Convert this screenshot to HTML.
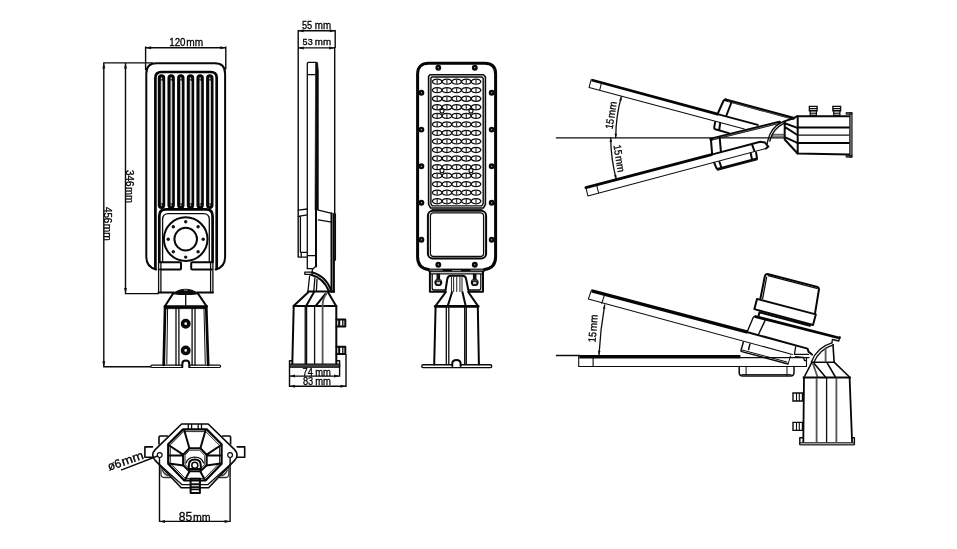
<!DOCTYPE html>
<html lang="en">
<head>
<meta charset="utf-8">
<title>Street light dimensions</title>
<style>
html,body{margin:0;padding:0;background:#fff;}
body{width:957px;height:549px;overflow:hidden;position:relative;}
svg{position:absolute;left:0;top:0;display:block;filter:grayscale(1);}
svg text{font-family:"Liberation Sans","DejaVu Sans",sans-serif;font-size:10px;fill:#000;stroke:#000;stroke-width:0.3;}
.t{fill:none;stroke:#0c0c0c;stroke-width:1.3;stroke-linecap:round;stroke-linejoin:round;}
.m{fill:none;stroke:#080808;stroke-width:2;stroke-linecap:round;stroke-linejoin:round;}
.k{fill:none;stroke:#050505;stroke-width:2.7;stroke-linecap:round;stroke-linejoin:round;}
.d{fill:none;stroke:#0a0a0a;stroke-width:1.4;stroke-linecap:butt;stroke-linejoin:miter;}
.h{fill:none;stroke:#333;stroke-width:0.6;stroke-linecap:round;stroke-linejoin:round;}
.f{fill:#111;stroke:none;}
.w{fill:#fff;}
</style>
</head>
<body>
<svg width="957" height="549" viewBox="0 0 957 549">
<rect width="957" height="549" fill="#fff"/>

<!-- VIEW 1 : back view -->
<g id="v1">
  <!-- dimension lines -->
  <path class="d" d="M145.6 46.6V70 M225.8 46.6V69.5 M145.6 47.8H225.8"/>
  <path class="f" d="M145.6 47.8l5.5-1.5v3z M225.8 47.8l-5.5-1.5v3z"/>
  <g transform="translate(169.2 46.2)"><text x="0" y="0" textLength="16.3" lengthAdjust="spacingAndGlyphs" style="font-size:10.4px">120</text><text x="17.1" y="0" textLength="16.9" lengthAdjust="spacingAndGlyphs" style="font-size:11.2px">mm</text></g>
  <path class="d" d="M103.1 62.9H153 M103.8 62.9V366.8 M103.1 366.8H151 M125.5 62.9V293.6 M124.8 293.6H159"/>
  <path class="f" d="M103.8 62.9l-1.5 5.5h3z M125.5 62.9l-1.5 5.5h3z M103.8 366.8l-1.5-5.5h3z M125.5 293.6l-1.5-5.5h3z"/>
  <g transform="translate(126 170.1) rotate(90)"><text x="0" y="0" textLength="16.3" lengthAdjust="spacingAndGlyphs" style="font-size:10.6px">346</text><text x="16.8" y="0" textLength="16.0" lengthAdjust="spacingAndGlyphs" style="font-size:10.8px">mm</text></g>
  <g transform="translate(104.3 207) rotate(90)"><text x="0" y="0" textLength="16.3" lengthAdjust="spacingAndGlyphs" style="font-size:10.6px">456</text><text x="16.7" y="0" textLength="17.1" lengthAdjust="spacingAndGlyphs" style="font-size:10.8px">mm</text></g>

  <!-- outer body -->
  <path class="m" d="M156.2 269.5Q146.3 267 146.3 257V73.5Q146.3 63.2 156.6 63.2H214.8Q225.1 63.2 225.1 73.5V257Q225.1 267 215.6 269.5"/>
  <!-- inner frame -->
  <path class="k" d="M155.4 269V78Q155.4 72 161.4 72H210.7Q216.7 72 216.7 78V269"/>
  <!-- fins -->
  <g id="fins">
    <g id="fin">
      <rect x="159.3" y="75.8" width="4.4" height="131.6" rx="2.2" fill="#c4c4c4" stroke="#060606" stroke-width="3"/>
      <path d="M162.1 203V81" fill="none" stroke="#eee" stroke-width="0.8"/>
      <path d="M160 79.8H163.4 M160 204H163.4" fill="none" stroke="#111" stroke-width="0.9"/>
    </g>
    <use href="#fin" x="9.66"/>
    <use href="#fin" x="19.32"/>
    <use href="#fin" x="28.98"/>
    <use href="#fin" x="38.64"/>
    <use href="#fin" x="48.3"/>
  </g>
  <!-- lower module -->
  <path class="k" d="M159.3 262V216Q159.3 209.4 165.9 209.4H206.1Q212.6 209.4 212.6 216V262" fill="#fff"/>
  <path class="t" d="M158.6 262V292.5 M160.9 262V292.5 M210.6 262V292.5 M212.9 262V292.5"/>
  <path class="t" d="M162.6 262V219.5Q162.6 213.6 168.5 213.6H203.4Q209.3 213.6 209.3 219.5V262"/>
  <path class="m" d="M158.5 292.6H174 M197 292.6H213"/>
  <circle class="m" cx="185.7" cy="239.1" r="21.8"/>
  <circle class="m" cx="185.7" cy="239.1" r="11.3"/>
  <g class="f">
    <circle cx="185.7" cy="221.7" r="1.7"/><circle cx="185.7" cy="257.1" r="1.7"/>
    <circle cx="168.2" cy="239.2" r="1.7"/><circle cx="203.2" cy="239.2" r="1.7"/>
    <circle cx="173.3" cy="226.8" r="1.7"/><circle cx="198.1" cy="226.8" r="1.7"/>
    <circle cx="173.3" cy="251.8" r="1.7"/><circle cx="198.1" cy="251.8" r="1.7"/>
  </g>
  <path class="m" d="M160 262.2H180Q181 262.2 181 263.2V268.5Q181 269.5 180 269.5H160 M212 262.2H192.2Q191.2 262.2 191.2 263.2V268.5Q191.2 269.5 192.2 269.5H212" fill="#fff"/>
  <!-- dome + pole -->
  <path d="M173 293.6Q185.7 285.2 198 293.6Q185.7 295.4 173 293.6Z" fill="#0a0a0a" stroke="#0a0a0a" stroke-width="1.2" stroke-linejoin="round"/>
  <path d="M183.8 290.1H187.6" stroke="#ccc" stroke-width="0.8" fill="none"/>
  <path class="m" d="M173 293.6L164.9 306.3 M198 293.6L206.6 306.3"/>
  <path class="k" d="M165 306.6H206.5"/>
  <path class="k" d="M165.1 306.3L163.7 365 M206.2 306.3L208.2 365"/>
    <path class="t" d="M185.7 294V306 M176 307V365 M178.9 307V365 M192.1 307V365 M195 307V365"/>
  <path class="t" d="M167.6 308.5L166.8 364 M204 308.5L205.3 364 M166 308.6H205.5" style="stroke-width:1"/>
  <circle cx="185.7" cy="323.7" r="3.15" fill="#fff" stroke="#0a0a0a" stroke-width="3.6"/>
  <circle cx="185.7" cy="350.4" r="3.15" fill="#fff" stroke="#0a0a0a" stroke-width="3.6"/>
  <path class="t" d="M182.6 365.1H152Q150.8 365.1 150.8 366.3Q150.8 367.5 152 367.5H182.6 M189 365.1H219.4Q220.6 365.1 220.6 366.3Q220.6 367.5 219.4 367.5H189" style="stroke-width:1.2" fill="#bbb"/>
  <path class="m" d="M182.3 367V364Q182.3 360.6 185.8 360.6Q189.3 360.6 189.3 364V367"/>
</g>

<!-- VIEW 2 : side view -->
<g id="v2">
  <path class="d" d="M298.2 30V257 M335.2 30V48 M334.7 47V214 M297.5 30.7H335.9 M298.2 47.9H334.7"/>
  <path class="f" d="M298.2 30.7l5.5-1.5v3z M335.2 30.7l-5.5-1.5v3z M298.2 47.9l5.5-1.5v3z M334.7 47.9l-5.5-1.5v3z"/>
  <g transform="translate(301.9 28.8)"><text x="0" y="0" textLength="10.3" lengthAdjust="spacingAndGlyphs" style="font-size:10.8px">55</text><text x="12.9" y="0" textLength="16.3" lengthAdjust="spacingAndGlyphs" style="font-size:10.6px">mm</text></g>
  <g transform="translate(302.6 45.2)"><text x="0" y="0" textLength="10.1" lengthAdjust="spacingAndGlyphs" style="font-size:9.8px">53</text><text x="12.2" y="0" textLength="16.3" lengthAdjust="spacingAndGlyphs" style="font-size:9.9px">mm</text></g>
  <!-- head -->
  <path class="t" d="M307.3 268.5V63.5Q307.3 62.4 308.4 62.4H316 M307.3 74.6H315"/>
  <path d="M315.6 62.4H317.6L318.4 71V210H315Z" fill="#0a0a0a" stroke="#0a0a0a" stroke-width="0.6"/>
  <path class="m" d="M316 210V266.5"/>
  <!-- left driver box -->
  <path class="t" d="M298.3 210.1L307.3 209 M298.3 216.3L307.3 214.8 M298.3 257.2H301.2 M301.2 252.4V257.2H307.3 M301.2 252.4H307.3 M300.4 216.5V252"/>
  <!-- right box -->
  <path class="t" d="M318.4 210.1L331.8 213.3 M318.4 219.9L331.8 222.2 M307.5 255.6H315"/>
  <path class="m" d="M331.5 213.3V292 M333.9 214V292"/>
  <path class="t" d="M335.4 214V260H334"/>
  <!-- neck + bracket -->
  <path class="t" d="M307.3 268.6H312.3 M312.3 268.6V272 M315 267L312.3 269.5"/>
  <path class="t" d="M304.8 272.2H312.2V274.3H304.8Z"/>
  <path class="m" d="M312.2 272.4Q325.5 275.5 331.2 290.5 M311 274.8Q323.5 278 328.8 291"/>
  <path class="t" d="M309.6 276L308 291 M314.9 278L313.8 291 M317 279.5L316.4 291"/>
  <!-- cone -->
  <path class="m" d="M308 291.5H333.9 M308.5 291.9L293.5 306.1 M327.9 291.9L336 305.8 M293.5 306.1H336.4"/>
  <path class="m" d="M313.8 292.4L306.4 305.6 M325.4 294L315.9 305.6"/>
  <path d="M327 293Q322.6 298 322.6 306V364" fill="none" stroke="#555" stroke-width="1.8"/>
  <!-- pole -->
  <path class="m" d="M293.7 306.3L292.3 364 M336.3 306V364"/>
  <path class="t" d="M305.2 306V364 M306.6 306V364 M314.6 306V364"/>
  <!-- bolts -->
  <path class="m" d="M336.5 319.4H345.3V326.6H336.5 M339.2 319.4V326.6 M336.5 346.7H345.3V353.9H336.5 M339.2 346.7V353.9"/>
  <path class="t" d="M342.8 319.4V326.6 M342.8 346.7V353.9"/>
  <!-- base -->
  <path d="M289.5 364H339.7V367.3H289.5Z" fill="#444" stroke="#0a0a0a" stroke-width="1"/>
  <path class="d" d="M289.5 360.3V386.9 M292 360.8H289.5 M339.6 360.3V376.8 M337 360.8H339.6 M346 354V386.9 M289.5 376.1H339.6 M289.5 386.2H346"/>
  <path class="f" d="M289.5 376.1l5.5-1.5v3z M339.6 376.1l-5.5-1.5v3z M289.5 386.2l5.5-1.5v3z M346 386.2l-5.5-1.5v3z"/>
  <g transform="translate(302.5 375.5)"><text x="0" y="0" textLength="10.3" lengthAdjust="spacingAndGlyphs" style="font-size:11.3px">74</text><text x="12.7" y="0" textLength="15.7" lengthAdjust="spacingAndGlyphs" style="font-size:10.7px">mm</text></g>
  <g transform="translate(302.9 385.3)"><text x="0" y="0" textLength="10.3" lengthAdjust="spacingAndGlyphs" style="font-size:10.6px">83</text><text x="12.3" y="0" textLength="15.7" lengthAdjust="spacingAndGlyphs" style="font-size:10.4px">mm</text></g>
</g>

<!-- VIEW 3 : front view -->
<g id="v3">
  <path class="k" d="M428.5 269.6Q417.6 268 417.6 257V74C417.6 67 421.5 63.3 428.6 63.3H484.6C491.7 63.3 495.6 67 495.6 74V257Q495.6 268 484.5 269.6" style="stroke-width:3"/>
  <circle cx="421.4" cy="92.7" r="1.75" fill="#fff" stroke="#0a0a0a" stroke-width="2.4"/>
  <circle cx="491.7" cy="92.7" r="1.75" fill="#fff" stroke="#0a0a0a" stroke-width="2.4"/>
  <circle cx="421.4" cy="129.6" r="1.75" fill="#fff" stroke="#0a0a0a" stroke-width="2.4"/>
  <circle cx="491.7" cy="129.6" r="1.75" fill="#fff" stroke="#0a0a0a" stroke-width="2.4"/>
  <circle cx="421.4" cy="166.2" r="1.75" fill="#fff" stroke="#0a0a0a" stroke-width="2.4"/>
  <circle cx="491.7" cy="166.2" r="1.75" fill="#fff" stroke="#0a0a0a" stroke-width="2.4"/>
  <circle cx="421.4" cy="202.7" r="1.75" fill="#fff" stroke="#0a0a0a" stroke-width="2.4"/>
  <circle cx="491.7" cy="202.7" r="1.75" fill="#fff" stroke="#0a0a0a" stroke-width="2.4"/>
  <circle cx="421.4" cy="239.7" r="1.75" fill="#fff" stroke="#0a0a0a" stroke-width="2.4"/>
  <circle cx="491.7" cy="239.7" r="1.75" fill="#fff" stroke="#0a0a0a" stroke-width="2.4"/>
  <circle cx="438.3" cy="67.7" r="1.75" fill="#fff" stroke="#0a0a0a" stroke-width="2.4"/>
  <circle cx="438.3" cy="264.8" r="1.75" fill="#fff" stroke="#0a0a0a" stroke-width="2.4"/>
  <circle cx="474.8" cy="67.7" r="1.75" fill="#fff" stroke="#0a0a0a" stroke-width="2.4"/>
  <circle cx="474.8" cy="264.8" r="1.75" fill="#fff" stroke="#0a0a0a" stroke-width="2.4"/>
  <!-- led panel -->
  <path class="t" d="M430 74.8H483.4L485.4 76.8V204.4L483.4 208H430.6L428.6 204.4V76.2Z" style="stroke-width:1.6"/>
  <path class="t" d="M431.8 77H482L483.2 78.2V203.7L481.7 205.9H432.2L430.9 203.7V77.9Z" style="stroke-width:1.4"/>
  <defs><g id="led"><path d="M-4.85 0C-4 -3.4 4 -3.4 4.85 0C4 3.4 -4 3.4 -4.85 0Z" fill="#fff" stroke="#0a0a0a" stroke-width="1.25" stroke-linejoin="round"/><path d="M0 -2.2V2.2" stroke="#3a3a3a" stroke-width="1.3" fill="none"/></g>
  <g id="ledrow"><use href="#led" x="437.2"/><use href="#led" x="446.9"/><use href="#led" x="456.6"/><use href="#led" x="466.3"/><use href="#led" x="476.0"/></g></defs>
  <use href="#ledrow" y="81.65"/>
  <use href="#ledrow" y="90.19"/>
  <use href="#ledrow" y="98.73"/>
  <use href="#ledrow" y="107.27"/>
  <use href="#ledrow" y="115.81"/>
  <use href="#ledrow" y="124.35"/>
  <use href="#ledrow" y="132.89"/>
  <use href="#ledrow" y="141.43"/>
  <use href="#ledrow" y="149.97"/>
  <use href="#ledrow" y="158.51"/>
  <use href="#ledrow" y="167.05"/>
  <use href="#ledrow" y="175.59"/>
  <use href="#ledrow" y="184.13"/>
  <use href="#ledrow" y="192.67"/>
  <use href="#ledrow" y="201.21"/>
  <circle cx="442.0" cy="111.1" r="2" fill="#fff" stroke="#0a0a0a" stroke-width="1.1"/>
  <circle cx="442.0" cy="170.8" r="2" fill="#fff" stroke="#0a0a0a" stroke-width="1.1"/>
  <circle cx="471.0" cy="111.1" r="2" fill="#fff" stroke="#0a0a0a" stroke-width="1.1"/>
  <circle cx="471.0" cy="170.8" r="2" fill="#fff" stroke="#0a0a0a" stroke-width="1.1"/>
  <!-- driver window -->
  <path d="M431.5 209.4H482.5" stroke="#333" stroke-width="1.3" fill="none"/>
  <rect class="m" x="427.9" y="210.8" width="58.2" height="47.8" rx="5"/>
  <rect class="t" x="430.4" y="212.9" width="53.2" height="43.6" rx="3.2"/>
  <!-- bottom bar -->
  <path d="M428.8 269H484.2V271.8H428.8Z" fill="#0a0a0a" stroke="#0a0a0a" stroke-width="0.8"/>
  <path d="M429.5 270.2H442.5 M452 270.6H461 M470.5 270.2H483.5" stroke="#999" stroke-width="1" fill="none"/>
  <!-- bracket -->
  <path class="m" d="M429.9 271.6V291.7H445.5 M468.5 291.7H483 V271.6"/>
  <path class="t" d="M431 273.8H482 M432.2 273.8V288Q432.2 290 434.2 290H445 M480.8 273.8V288Q480.8 290 478.8 290H469"/>
  <g id="bolt3">
    <path d="M436.5 273.6V279H440.1V273.6Z" fill="#111"/>
    <ellipse cx="438.3" cy="282.4" rx="3.9" ry="3.7" fill="#0a0a0a"/>
    <path d="M436.6 281.8H440V284.2H436.6Z" fill="#c8c8c8"/>
    <path d="M435.2 280.2H441.4" stroke="#999" stroke-width="0.6" fill="none"/>
  </g>
  <use href="#bolt3" x="36.4"/>
  <!-- neck -->
  <path class="m" d="M445.3 291.7L447.3 279Q447.8 275.8 451 275.8H462.3Q465.6 275.8 466.1 279L468.7 291.7"/>
  <path class="t" d="M451.5 276.5V291.5 M453.6 276.5V291.5 M456.7 276.5V291.5 M459.9 276.5V291.5 M462 276.5V291.5" style="stroke:#333;stroke-width:1.1"/>
  <!-- cone -->
  <path class="m" d="M445.7 292.2L435.6 305.9 M468.4 292.2L477.9 305.9 M452 292.2L447.8 305.9 M462.5 292.2L465.7 305.9"/>
  <path class="k" d="M435.3 306.3H478.2"/>
  <!-- pole -->
  <path class="k" d="M435.6 306.3L434.2 364.5 M477.8 306.3L478.9 364.5" style="stroke-width:2"/>
  <path class="t" d="M446.3 307V364.5 M448.8 307V364.5 M464.7 307V364.5 M466.3 307V364.5"/>
  <!-- base plate -->
  <path class="t" d="M452.3 364.8H423Q421.8 364.8 421.8 366.2Q421.8 367.6 423 367.6H490.5Q491.7 367.6 491.7 366.2Q491.7 364.8 490.5 364.8H460.6" style="stroke-width:1.4"/>
  <path class="m" d="M452.3 366V363.5Q452.3 360 456.4 360Q460.6 360 460.6 363.5V366"/>
</g>

<!-- VIEW 4 : tilt range -->
<g id="v4">
  <path class="t" d="M556.4 137.9H784" style="stroke-width:1.4"/>
  <!-- arcs -->
  <path class="t" d="M621.3 96.6A160 160 0 0 0 615.7 137.8 M610.7 137.8A165 165 0 0 0 616.2 179"/>
  <path class="f" d="M621.3 96.6l0.4 4.2l-2.5-0.6z M615.7 137.8l-1.2-4.1h2.6z M610.7 137.8l-1.2 4.1h2.6z M616.2 179l-2.3-3.6l2.5-0.6z"/>
  <g transform="translate(612.4 129.6) rotate(-81)"><text x="0" y="0" textLength="10.2" lengthAdjust="spacingAndGlyphs" style="font-size:10.6px">15</text><text x="11.2" y="0" textLength="16.6" lengthAdjust="spacingAndGlyphs" style="font-size:10.6px">mm</text></g>
  <g transform="translate(613.4 145.4) rotate(80.5)"><text x="0" y="0" textLength="10.2" lengthAdjust="spacingAndGlyphs" style="font-size:10.6px">15</text><text x="11.2" y="0" textLength="16.6" lengthAdjust="spacingAndGlyphs" style="font-size:10.6px">mm</text></g>
  <!-- upper arm -->
  <path class="t" d="M591.2 79.4L589.1 87.4L744.4 128.9 M601.6 82.4L599.7 90.2" style="stroke-width:1.05"/>
  <path class="k" d="M591.6 80L718.5 114.4" style="stroke-width:2.7;stroke-linecap:butt"/>
  <path class="m" d="M718.5 114.4L757.8 124.9"/>
  <!-- upper driver box -->
  <path class="m" d="M718 113L723.4 101Q724.2 99.2 726.2 99.8"/>
  <path class="k" d="M725.5 99.9L793.3 118.3" style="stroke-width:3"/>
  <path d="M728 101.4L790 118.2" stroke="#888" stroke-width="0.5" fill="none"/>
  <path class="m" d="M731.6 102L726.4 115.5"/>
  <!-- small box under upper arm -->
  <path class="m" d="M715.1 122.2L714.2 127.6Q714 128.9 715.3 129.3L728.9 133.1 M720.1 123.5L719.3 129.4"/>
  <!-- lower arm -->
  <path class="t" d="M585.9 187.6L587.9 195.9L766 148.5 M596.6 184.8L598.6 193" style="stroke-width:1.05"/>
  <path class="k" d="M585.9 187.6L711.5 154.6" style="stroke-width:2.8"/>
  <path class="m" d="M711.5 154.6L760.3 141.8L765 142.6L768.3 146.6L766 148.5 M752.3 145.1L754.4 151"/>
  <!-- lower driver box -->
  <path class="k" d="M710.9 139.2L779.5 122.3" style="stroke-width:3.1"/>
  <path d="M713 139.2L778 123.2" stroke="#aaa" stroke-width="0.5" fill="none"/>
  <path class="m" d="M710.9 139.2L712.1 153.5 M719.7 137.8L720.9 151.4"/>
  <!-- led module under lower arm -->
  <path class="m" d="M714.2 162.7L716.3 167.8Q716.8 169.2 718.2 168.8L757 158.5L756.1 152.6 M719.5 162L721.2 167 M750.7 153.3L751.9 159"/>
  <path class="t" d="M717.5 170L757.3 159.6"/>
  <!-- pivot -->
  <path d="M772.6 134.3H784.7V137.2H772.6Z" fill="#999" stroke="#333" stroke-width="0.8"/>
  <path class="t" d="M782.6 121.8Q770.8 127.3 767.9 140.4L767.2 143.6 M783.8 123.4Q773 128.6 769.8 141" style="stroke-width:1.4"/>
  <path class="m" d="M784.7 121.6V139.5 M783.6 121.6L793.3 118.3L797.4 116.2 M784.7 123.3L797.4 127.9 M784.7 126.8L797.4 135 M784.7 137.1L797.4 142.9 M784.7 139.5L797.4 153.3"/>
  <!-- pole -->
  <path class="m" d="M797.7 116.2V153.4 M797.4 116.2H849.4 M797.4 153.4L849.4 154.4"/>
  <path class="k" d="M797.7 127.5H849 M797.7 143.1H849" style="stroke-width:2"/>
  <path class="t" d="M797.7 135.1H849"/>
  <path d="M849.7 112.6H852.1V157.2H849.7Z M846 112.6H852V114.2H846Z M846 155.6H852V157.2H846Z" fill="#777" stroke="#111" stroke-width="0.9"/>
  <g id="bolt4">
    <path d="M809.4 106.4H817.1V110.8H809.4Z" fill="#fff" stroke="#0a0a0a" stroke-width="1.4"/>
    <path d="M810.2 111H816.4V115.4H810.2Z" fill="#ddd" stroke="#0a0a0a" stroke-width="1.2"/>
    <path d="M809.5 108.6H817 M810.2 113.2H816.4" stroke="#0a0a0a" stroke-width="1.1" fill="none"/>
  </g>
  <use href="#bolt4" x="23.5"/>
</g>

<!-- VIEW 5 : tilt with sensor -->
<g id="v5">
  <path class="t" d="M556.4 355.5H580"/>
  <path class="t" d="M604.7 304.8Q600.4 329 599 354.6"/>
  <path class="f" d="M604.7 304.6l0.6 4.3l-2.5-0.5z M599 355l-1.1-4.2l2.6 0.1z"/>
  <g transform="translate(595.6 342.4) rotate(-86)"><text x="0" y="0" textLength="10.2" lengthAdjust="spacingAndGlyphs" style="font-size:10.6px">15</text><text x="11.2" y="0" textLength="16.6" lengthAdjust="spacingAndGlyphs" style="font-size:10.6px">mm</text></g>
  <!-- horizontal arm -->
  <path class="t" d="M578.7 356V366.5H806.5V358 M593.1 358V366.5" style="stroke-width:1.1"/>
  <path class="k" d="M579.3 356.8H740.4" style="stroke-width:3.6;stroke-linecap:butt"/>
  <path class="t" d="M740.4 357.6H809"/>
  <!-- led module under horizontal arm -->
  <path class="t" d="M739.2 366.5V372.5Q739.2 376 742.7 376H790.5Q794 376 794 372.5V366.5" style="stroke-width:1.5"/>
  <path class="t" d="M746.1 366.5V375.5 M787 366.5V375.5 M742 374.6H791" style="stroke-width:1"/>
  <!-- tilted arm -->
  <path class="t" d="M591.5 290L588.3 299.1L792.4 354.4 M604.8 294L601.7 303.4" style="stroke-width:1.05"/>
  <path class="k" d="M591.8 290.9L747.6 332.2" style="stroke-width:3.4;stroke-linecap:butt"/>
  <path class="m" d="M747.6 332.2L807.5 348.6L808.6 351.8L812 354.6"/>
  <path class="t" d="M795.7 346.6L794.4 354.3H808.5 M795.5 356.6L803.3 357.3L804.5 360.5H806"/>
  <!-- led module under tilted arm -->
  <path class="t" d="M743.3 342.2L741 350.4Q740.8 351.4 741.8 351.6L788 364 M749.9 344L748.6 349.6" style="stroke-width:1.5"/>
  <path class="t" d="M790.5 356L788.3 363.5 M742 350L787 362" style="stroke-width:1"/>
  <!-- base box of sensor on arm -->
  <path class="t" d="M747.3 331.6L753 318Q753.8 316 755.6 316.5 M765 320.6L758.6 334.3" style="stroke-width:1.4"/>
  <path class="k" d="M755.5 316.6L839.4 338" style="stroke-width:2.8"/>
  <path class="t" d="M839.9 336.5L838.8 341L832.4 339.5L831.9 342.8"/>
  <!-- sensor -->
  <path class="m" d="M759.5 312.3L758.3 316.8 M759.5 312.3L810 325.8"/>
  <path class="m" d="M757 298.9L754.4 309.1L813 325L815.8 314.4Z" fill="#fff"/>
  <path class="k" d="M760.4 298.6L764.8 276.5Q765.5 273.4 768.5 274.2L816.5 286.6Q819.5 287.5 818.8 290.3L815 313.6" fill="#fff" style="stroke-width:2"/>
  <path class="t" d="M762.6 298.6L766.6 277.5 M768 275.6L817 288.3"/>
  <!-- pivot -->
  <path class="t" d="M831.9 342.8Q816.6 347.3 811.4 362 M833.2 344.8Q819.4 349.2 813.8 362.4" style="stroke-width:1.4"/>
  <path d="M825.6 347.4V361.6" stroke="#555" stroke-width="1.8" fill="none"/>
  <path class="m" d="M833 344.7L834.1 361.6 M811.7 362.2H834.1" style="stroke-width:1.6"/>
  <!-- cone -->
  <path class="m" d="M811.7 362.7L804 377.5 M834.1 362.2L850 377.5 M813.9 363.3L825.9 377.5 M827 362.7L835.7 377.5" style="stroke-width:1.6"/>
  <path d="M812.8 363.3L817.7 377.5" stroke="#555" stroke-width="1.8" fill="none"/>
  <path class="m" d="M803.5 377.5H850"/>
  <!-- pole -->
  <path class="k" d="M804 377.9L803.3 442 M849.6 377.9L852.1 442" style="stroke-width:1.8"/>
  <path d="M816.6 378V442 M836.4 378V442" stroke="#555" stroke-width="1.8" fill="none"/>
  <path class="t" d="M826.6 378V442"/>
  <!-- bolts -->
  <g id="bolt5">
    <path d="M793 393H802.5V401H793Z" fill="#fff" stroke="#0a0a0a" stroke-width="1.4"/>
    <path d="M796.5 393V401 M799.3 393V401" stroke="#0a0a0a" stroke-width="1.1" fill="none"/>
  </g>
  <use href="#bolt5" y="29.4"/>
  <!-- base -->
  <path class="t" d="M799.8 437.8V444.6H854.4V437.8 M799.8 437.8H802.5 M852 437.8H854.4" style="stroke-width:1.4"/>
  <path d="M800 442.6H854.2V444.8H800Z" fill="#aaa" stroke="#111" stroke-width="0.8"/>
</g>

<!-- VIEW 6 : bottom view -->
<g id="v6">
  <!-- dimension -->
  <path class="d" d="M159.5 457V522 M230.1 457V522 M159.5 521.4H230.1"/>
  <path class="f" d="M159.5 521.4l5.5-1.5v3z M230.1 521.4l-5.5-1.5v3z"/>
  <g transform="translate(178.7 520.6)"><text x="0" y="0" textLength="13.4" lengthAdjust="spacingAndGlyphs" style="font-size:13.2px">85</text><text x="14.2" y="0" textLength="17.6" lengthAdjust="spacingAndGlyphs" style="font-size:11.4px">mm</text></g>
  <path class="d" d="M121 470.1L157.6 456"/>
  <g transform="translate(109.2 470.8) rotate(-19)"><text x="0" y="0" textLength="13.8" lengthAdjust="spacingAndGlyphs" style="font-size:12.0px">ø6</text><text x="14.6" y="0" textLength="22.6" lengthAdjust="spacingAndGlyphs" style="font-size:12.2px">mm</text></g>
  <!-- behind blocks -->
  <path class="m" d="M152.5 446.9H144.9V457.2H153 M237.3 446.9H244.7V457.2H236.8" style="stroke-width:1.6"/>
  <path class="m" d="M167.5 436H160.2Q159 436 159 437.2V444 M222.5 436H229.4Q230.6 436 230.6 437.2V444" style="stroke-width:1.6"/>
  <path class="t" d="M161 466V474Q161 477.5 164.5 477.5H171 M228.8 466V474Q228.8 477.5 225.3 477.5H219 M162.5 470Q164 474.5 168 475.5 M227.3 470Q225.8 474.5 221.8 475.5" style="stroke:#333"/>
  <!-- outer flange -->
  <path class="m" d="M181.6 424H208.2L234.6 449.6Q239.6 455 234.6 460.4L208.6 487.8H181.2L155.2 460.4Q150.2 455 155.2 449.6Z" fill="#fff" style="stroke-width:1.6"/>
  <path class="t" d="M159.5 464.5L181.8 484.6H208L230.3 464.5"/>
  <path class="t" d="M188.3 424.5V428.5 M191.6 424.5V428.5 M198.2 424.5V428.5 M201.5 424.5V428.5"/>
  <!-- inner octagon -->
  <path class="k" d="M183.1 429.4H206.7L221.6 444.3V463.8L205.5 480.5H184.3L168.2 463.8V444.3Z" style="stroke-width:2.2"/>
  <path class="t" d="M184 431.6H205.8L219.5 445.3V463L204.6 478.4H185.2L170.3 463V445.3Z" style="stroke-width:0.9"/>
  <!-- spokes -->
  <path class="m" d="M184.3 430.5L189.4 448.3 M205.5 430.5L200.4 448.3 M169.3 445.5L183.1 454.7 M220.5 445.5L206.7 454.7 M168.7 455.4H183 M206.8 455.4H221 M169 463.5L183.5 465.5 M220.8 463.5L206.3 465.5 M185 479.8L189.6 471.3 M204.8 479.8L200.2 471.3"/>
  <!-- small octagon -->
  <path class="m" d="M189.4 448.3H200.4L206.7 454.7V465.3L200.4 471.3H189.4L183.1 465.3V454.7Z"/>
  <path class="t" d="M190.1 450.2H199.7L204.8 455.5V464.5L199.7 469.4H190.1L185 464.5V455.5Z" style="stroke-width:0.9"/>
  <!-- hub -->
  <path class="t" d="M186 463Q188 457.2 194.8 457.2Q201.6 457.2 203.6 463" style="stroke-width:1.2"/>
  <path d="M188.8 469V465.4Q188.8 459.6 194.8 459.6Q200.8 459.6 200.8 465.4V469Z" fill="#fff" stroke="#050505" stroke-width="2"/>
  <circle cx="194.8" cy="465.2" r="3" fill="#fff" stroke="#050505" stroke-width="1.5"/>
  <!-- bottom tab -->
  <path class="m" d="M190.6 478.7H199.9V493H190.6Z" fill="#fff"/>
  <path class="t" d="M190.6 484H199.9 M190.6 486.8H199.9 M190.6 489.6H199.9"/>
  <!-- holes -->
  <circle cx="159.7" cy="455.1" r="2.4" fill="#fff" stroke="#0a0a0a" stroke-width="1.2"/>
  <circle cx="230.1" cy="455.1" r="2.4" fill="#fff" stroke="#0a0a0a" stroke-width="1.2"/>
</g>
</svg>
</body>
</html>
